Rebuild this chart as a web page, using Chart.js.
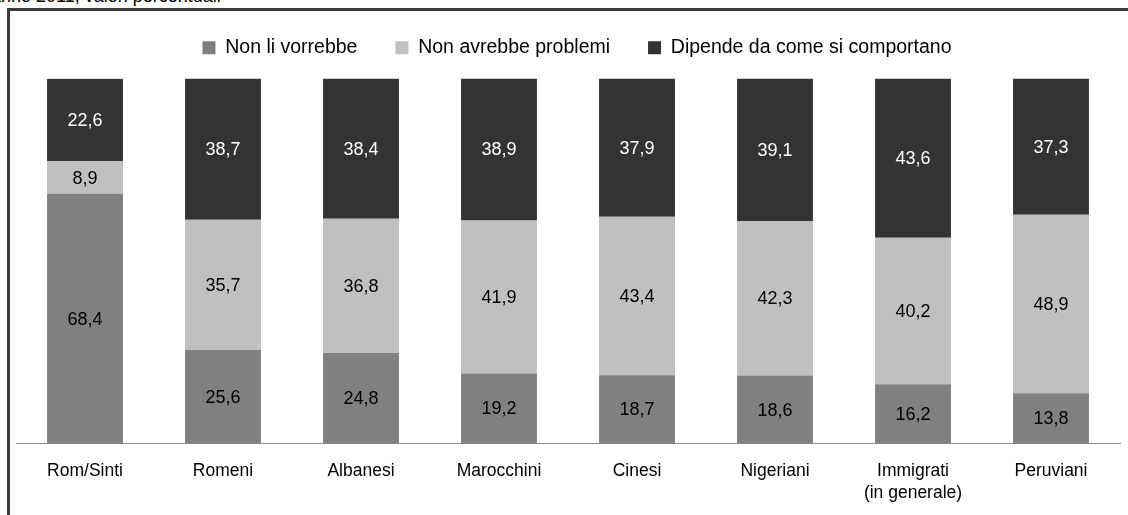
<!DOCTYPE html>
<html>
<head>
<meta charset="utf-8">
<script src="https://cdn.jsdelivr.net/npm/chart.js@4/dist/chart.umd.min.js"></script>
<style>
  html, body { margin: 0; padding: 0; background: #fff; overflow: hidden; }
  body { width: 1128px; height: 515px; position: relative; font-family: 'Liberation Sans', Arial, sans-serif; }
  #caption { position: absolute; left: -9px; top: -14px; font-size: 18px; color: #000; white-space: nowrap; }
  #frame { position: absolute; left: 7px; top: 8px; width: 1200px; height: 600px; border: 3px solid #3c3c3c; }
  #wrap { position: absolute; left: 0; top: -11px; width: 1118px; height: 530px; }
</style>
</head>
<body>
<div id="caption">anno 2011, valori percentuali</div>
<div id="frame"><div id="wrap"><canvas id="chart"></canvas></div></div>
<script>
var categories = ['Rom/Sinti', 'Romeni', 'Albanesi', 'Marocchini', 'Cinesi', 'Nigeriani', ['Immigrati', '(in generale)'], 'Peruviani'];
var nonLiVorrebbe = [68.4, 25.6, 24.8, 19.2, 18.7, 18.6, 16.2, 13.8];
var nonAvrebbeProblemi = [8.9, 35.7, 36.8, 41.9, 43.4, 42.3, 40.2, 48.9];
var dipende = [22.6, 38.7, 38.4, 38.9, 37.9, 39.1, 43.6, 37.3];
var seriesNames = ['Non li vorrebbe', 'Non avrebbe problemi', 'Dipende da come si comportano'];

var FONT = "'Liberation Sans', Arial, sans-serif";

// value labels in the middle of every segment
var valueLabels = {
  id: 'valueLabels',
  afterDatasetsDraw: function (chart) {
    var ctx = chart.ctx;
    ctx.save();
    ctx.font = '18px ' + FONT;
    ctx.textAlign = 'center';
    ctx.textBaseline = 'middle';
    chart.data.datasets.forEach(function (ds, i) {
      var meta = chart.getDatasetMeta(i);
      ctx.fillStyle = i === 2 ? '#ffffff' : '#000000';
      meta.data.forEach(function (bar, j) {
        var c = bar.getCenterPoint();
        ctx.fillText(ds.data[j].toFixed(1).replace('.', ','), c.x, c.y + 1);
      });
    });
    ctx.restore();
  }
};

// extra room under the legend, and nudge it a little to the right
var legendSpacing = {
  id: 'legendSpacing',
  beforeLayout: function (chart) {
    var lg = chart.legend;
    if (lg && !lg._spaced) {
      var fit = lg.fit;
      lg.fit = function () { fit.call(this); this.height += 11; };
      lg._spaced = true;
    }
  },
  afterLayout: function (chart) {
    if (chart.legend) { chart.legend.left += 9; chart.legend.right += 9; }
  }
};

new Chart(document.getElementById('chart'), {
  type: 'bar',
  data: {
    labels: categories,
    datasets: [
      { label: seriesNames[0], data: nonLiVorrebbe, backgroundColor: '#808080' },
      { label: seriesNames[1], data: nonAvrebbeProblemi, backgroundColor: '#c0c0c0' },
      { label: seriesNames[2], data: dipende, backgroundColor: '#333333' }
    ]
  },
  options: {
    responsive: true,
    maintainAspectRatio: false,
    animation: false,
    datasets: { bar: { categoryPercentage: 1, barPercentage: 0.55, borderWidth: 0 } },
    layout: { padding: { left: 6, right: 8, top: 0, bottom: 9 } },
    plugins: {
      legend: {
        position: 'top',
        labels: { color: '#000', font: { family: FONT, size: 19.5 }, boxWidth: 13, boxHeight: 13, padding: 38 }
      },
      tooltip: { enabled: false }
    },
    scales: {
      x: {
        stacked: true,
        grid: { display: false, drawTicks: false },
        border: { color: '#8c8c8c', width: 1 },
        ticks: { color: '#000', font: { family: FONT, size: 17.5, lineHeight: 1.3 }, padding: 16, maxRotation: 0 }
      },
      y: { stacked: true, display: false, min: 0, max: 100 }
    }
  },
  plugins: [valueLabels, legendSpacing]
});
</script>
</body>
</html>
